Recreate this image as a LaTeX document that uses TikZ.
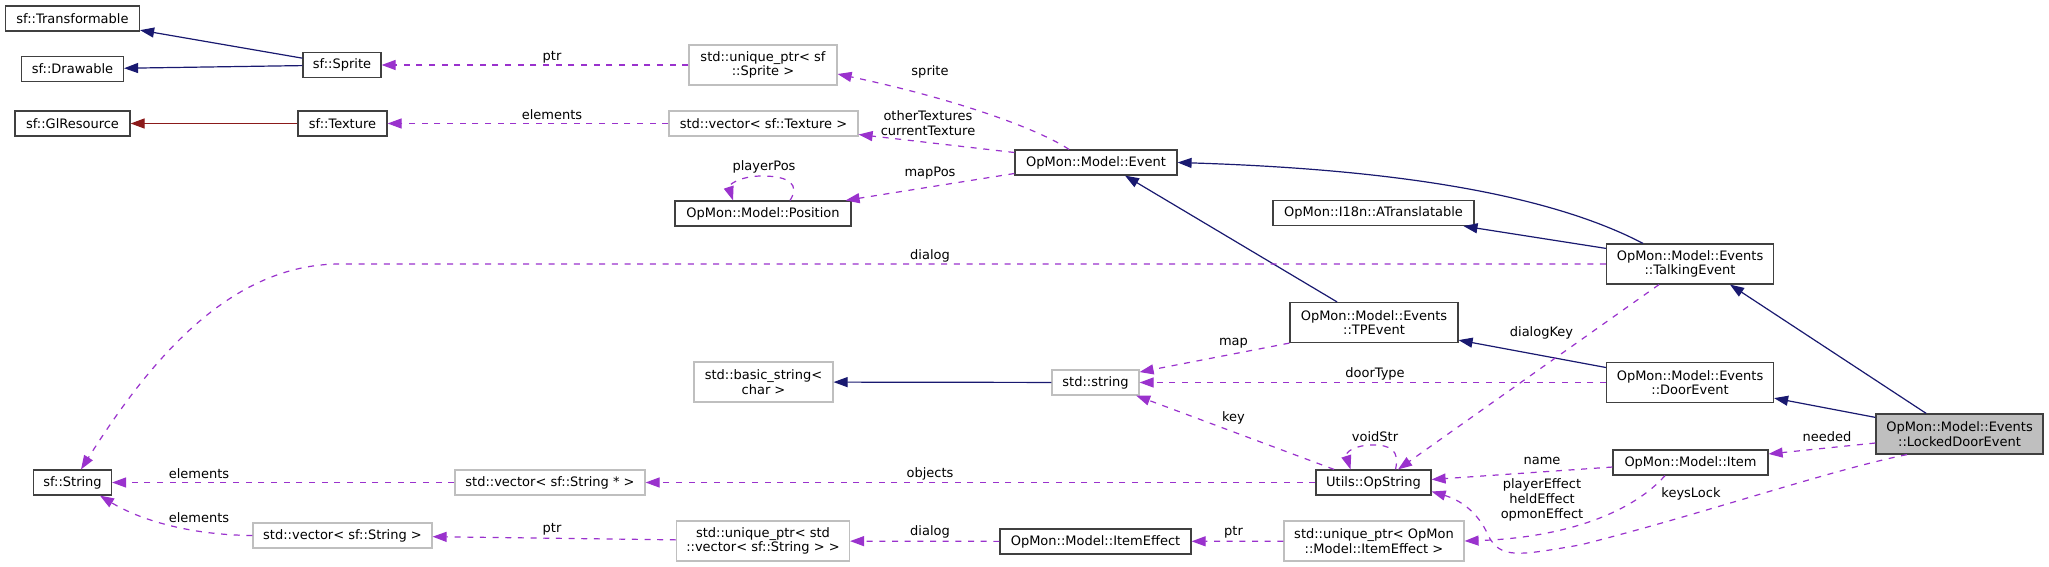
\documentclass[tikz,border=0pt]{standalone}
\usepackage{fontspec}
\setmainfont{DejaVu Sans}
\usetikzlibrary{arrows.meta}
\definecolor{navy}{HTML}{191970}
\definecolor{fire}{HTML}{8B1A1A}
\definecolor{orchid}{HTML}{9A32CD}
\definecolor{grey75}{HTML}{BFBFBF}
\begin{document}
\begin{tikzpicture}[
  x=0.75pt,y=-0.75pt,
  font=\fontsize{9.75}{11}\selectfont,
  cls/.style={draw=black!75,fill=white,line width=0.9pt,
    minimum height=18.75pt,inner sep=1pt,align=center},
  ext/.style={cls,draw=grey75},
  two/.style={minimum height=30pt},
  focus/.style={cls,fill=grey75},
  inh/.style={draw=navy,line width=0.9pt,-{Triangle[length=10.5pt,width=7.5pt]}},
  priv/.style={inh,draw=fire},
  assoc/.style={draw=orchid,line width=0.9pt,dash pattern=on 4.5pt off 5pt,
    -{Triangle[length=10.5pt,width=7.5pt]}},
  lbl/.style={inner sep=0pt,align=center}]
\path[use as bounding box,fill=white] (0,0) rectangle (2049,567);

\node[cls,minimum width=100.5pt] (sfTransformable) at (72.5,18.5) {sf::Transformable};
\node[cls,minimum width=76.5pt] (sfDrawable) at (72.5,69) {sf::Drawable};
\node[cls,minimum width=86.25pt] (sfGlResource) at (72.5,123.5) {sf::GlResource};
\node[cls,minimum width=58.5pt] (sfSprite) at (342,65) {sf::Sprite};
\node[cls,minimum width=66.75pt] (sfTexture) at (342.5,123.5) {sf::Texture};
\node[ext,two,minimum width=111pt] (uptrSprite) at (763,65) {std::unique\_ptr< sf\\::Sprite >};
\node[ext,minimum width=141.75pt] (vecTexture) at (763.5,123.5) {std::vector< sf::Texture >};
\node[cls,minimum width=121.5pt] (event) at (1096,162.5) {OpMon::Model::Event};
\node[cls,minimum width=132pt] (position) at (763,213.5) {OpMon::Model::Position};
\node[cls,minimum width=150.75pt] (aTranslatable) at (1373.5,213) {OpMon::I18n::ATranslatable};
\node[cls,two,minimum width=125.25pt] (talkingEvent) at (1690,264) {OpMon::Model::Events\\::TalkingEvent};
\node[cls,two,minimum width=126pt] (tpEvent) at (1374,322.5) {OpMon::Model::Events\\::TPEvent};
\node[ext,two,minimum width=104.25pt] (basicString) at (763.5,382) {std::basic\_string<\\char >};
\node[ext,minimum width=65.25pt] (stdString) at (1095.5,382.5) {std::string};
\node[cls,two,minimum width=125.25pt] (doorEvent) at (1690,382.5) {OpMon::Model::Events\\::DoorEvent};
\node[focus,two,minimum width=125.25pt] (lockedDoor) at (1959.5,434) {OpMon::Model::Events\\::LockedDoorEvent};
\node[cls,minimum width=58.5pt] (sfString) at (72.5,482.5) {sf::String};
\node[ext,minimum width=142.5pt] (vecStringPtr) at (550,482.5) {std::vector< sf::String * >};
\node[cls,minimum width=86.25pt] (opString) at (1373.5,482.5) {Utils::OpString};
\node[cls,minimum width=116.25pt] (item) at (1690.5,462.5) {OpMon::Model::Item};
\node[ext,minimum width=134.25pt] (vecString) at (342.5,535.5) {std::vector< sf::String >};
\node[ext,two,minimum width=129.75pt] (uptrVecString) at (763,541) {std::unique\_ptr< std\\::vector< sf::String > >};
\node[cls,minimum width=143.25pt] (itemEffect) at (1095.5,541.5) {OpMon::Model::ItemEffect};
\node[ext,two,minimum width=135pt] (uptrItemEffect) at (1374,541) {std::unique\_ptr< OpMon\\::Model::ItemEffect >};

\draw[inh] (sfSprite) -- (sfTransformable);
\draw[inh] (sfSprite) -- (sfDrawable);
\draw[priv] (sfTexture) -- (sfGlResource);
\draw[inh] ([xshift=-27.75pt]tpEvent.north) -- ([xshift=21.75pt]event.south);
\draw[inh] ([yshift=-3.75pt]talkingEvent.north west) -- ([xshift=67.5pt]aTranslatable.south);
\draw[inh] ([xshift=-35.25pt]talkingEvent.north) .. controls (1560,200) and (1420,170) .. (event.east);
\draw[inh] ([yshift=11.25pt]doorEvent.west) -- ([yshift=2.25pt]tpEvent.south east);
\draw[inh] ([xshift=-25pt]lockedDoor.north) -- ([xshift=30pt]talkingEvent.south);
\draw[inh] ([yshift=-3pt]lockedDoor.north west) -- ([yshift=3.75pt]doorEvent.south east);
\draw[inh] (stdString) -- (basicString);

\draw[assoc] (uptrSprite) -- (sfSprite);
\draw[assoc] (vecTexture) -- (sfTexture);
\draw[assoc] ([xshift=-20.25pt]event.north) .. controls (1040,130) and (960,100) .. ([yshift=-6.75pt]uptrSprite.east);
\draw[assoc] ([yshift=7.5pt]event.west) -- ([yshift=-8.25pt]vecTexture.east);
\draw[assoc] ([yshift=-8.25pt]event.west) -- ([xshift=-4.5pt]position.north east);
\draw[assoc] ([xshift=20.25pt]position.north) .. controls (800,185) and (790,176) .. (762,176)
  .. controls (740,176) and (728,185) .. ([xshift=-22.5pt]position.north);
\draw[assoc] (talkingEvent.west) -- (340,264) .. controls (230,264) and (150,360) .. ([xshift=6.4pt]sfString.north);
\draw[assoc] (tpEvent.south west) -- ([yshift=-2pt]stdString.north east);
\draw[assoc] (doorEvent.west) -- (stdString.east);
\draw[assoc] ([xshift=-29.6pt]opString.north) -- ([xshift=-2.6pt]stdString.south east);
\draw[assoc] ([xshift=-23.25pt]talkingEvent.south) -- ([xshift=18.4pt]opString.north);
\draw[assoc] ([xshift=16.5pt]opString.north) .. controls (1400,450) and (1390,445) .. (1373,445)
  .. controls (1355,445) and (1345,452) .. ([xshift=-17.25pt]opString.north);
\draw[assoc] ([yshift=-6.75pt]lockedDoor.west) -- ([yshift=6.4pt]item.east);
\draw[assoc] ([yshift=-3.4pt]item.west) -- ([yshift=2.25pt]opString.east);
\draw[assoc] ([xshift=-19.1pt]item.south) .. controls (1630,515) and (1560,538) .. (uptrItemEffect.east);
\draw[assoc] ([xshift=-39.4pt]lockedDoor.south) .. controls (1830,470) and (1700,515) .. (1580,545)
  .. controls (1520,555) and (1500,560) .. (1488,535)
  .. controls (1478,512) and (1460,500) .. ([yshift=-6.75pt]opString.east);
\draw[assoc] (opString.west) -- (vecStringPtr.east);
\draw[assoc] (vecStringPtr.west) -- (sfString.east);
\draw[assoc] (vecString.west) .. controls (190,535) and (140,520) .. ([xshift=20.6pt]sfString.south);
\draw[assoc] (uptrVecString) -- (vecString);
\draw[assoc] (itemEffect) -- (uptrVecString);
\draw[assoc] (uptrItemEffect) -- (itemEffect);

\node[lbl] (lPtrSprite) at (552,57) {ptr};
\node[lbl] (lElemTex) at (552,115) {elements};
\node[lbl] (lSprite) at (930,72) {sprite};
\node[lbl] (lTextures) at (928,123) {otherTextures\\currentTexture};
\node[lbl] (lPlayerPos) at (764,167) {playerPos};
\node[lbl] (lMapPos) at (930,173) {mapPos};
\node[lbl] (lDialog) at (930,256) {dialog};
\node[lbl] (lMap) at (1233.5,343) {map};
\node[lbl] (lDoorType) at (1375,374) {doorType};
\node[lbl] (lDialogKey) at (1541.5,333) {dialogKey};
\node[lbl] (lKey) at (1233.5,418) {key};
\node[lbl] (lVoidStr) at (1375,437) {voidStr};
\node[lbl] (lNeeded) at (1827,437) {needed};
\node[lbl] (lName) at (1542,461) {name};
\node[lbl] (lEffects) at (1542,500) {playerEffect\\heldEffect\\opmonEffect};
\node[lbl] (lKeysLock) at (1691,494) {keysLock};
\node[lbl] (lObjects) at (930,474) {objects};
\node[lbl] (lElemPtr) at (199,474) {elements};
\node[lbl] (lElemVec) at (199,518) {elements};
\node[lbl] (lPtrVec) at (552,529) {ptr};
\node[lbl] (lDialogEff) at (930,532) {dialog};
\node[lbl] (lPtrEff) at (1233.5,532) {ptr};
\end{tikzpicture}
\end{document}
